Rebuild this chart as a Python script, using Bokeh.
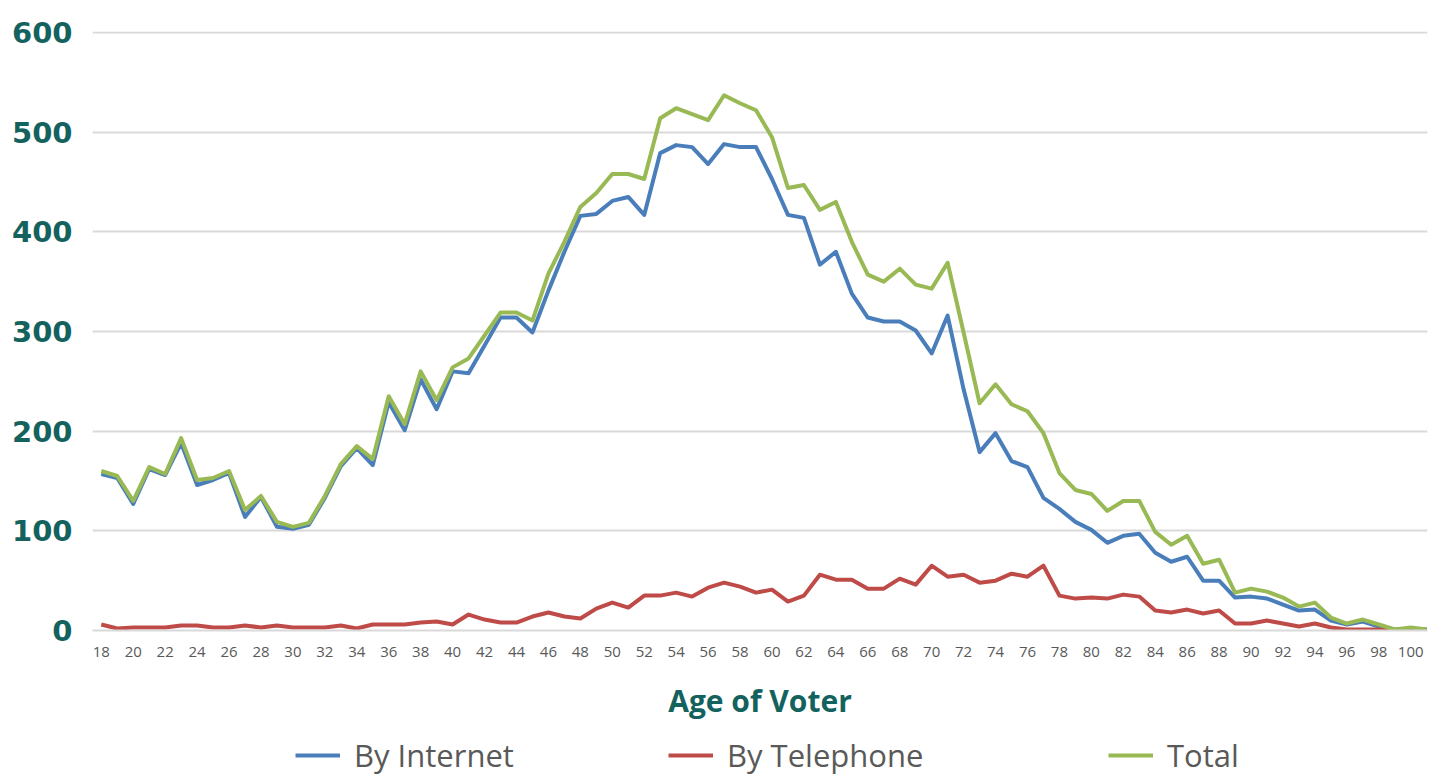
from bokeh.plotting import figure
from bokeh.models import Range1d, FixedTicker, Legend, LegendItem
from bokeh.layouts import column
from bokeh.embed import file_html
from bokeh.resources import INLINE

ages = list(range(18, 102))
by_internet = [157, 153, 127, 162, 156, 188, 146, 151, 158, 114, 134, 104, 102, 106, 133, 165, 183,
               166, 229, 201, 252, 222, 260, 258, 286, 314, 314, 299, 341, 380, 416, 418, 431, 435,
               417, 479, 487, 485, 468, 488, 485, 485, 453, 417, 414, 367, 380, 338, 314, 310, 310,
               301, 278, 316, 242, 179, 198, 170, 164, 133, 122, 109, 101, 88, 95, 97, 78, 69, 74,
               50, 50, 33, 34, 32, 26, 20, 21, 10, 6, 9, 4, 1, 2, 1]
by_telephone = [6, 2, 3, 3, 3, 5, 5, 3, 3, 5, 3, 5, 3, 3, 3, 5, 2, 6, 6, 6, 8, 9, 6, 16, 11, 8, 8, 14,
                18, 14, 12, 22, 28, 23, 35, 35, 38, 34, 43, 48, 44, 38, 41, 29, 35, 56, 51, 51, 42,
                42, 52, 46, 65, 54, 56, 48, 50, 57, 54, 65, 35, 32, 33, 32, 36, 34, 20, 18, 21, 17,
                20, 7, 7, 10, 7, 4, 7, 3, 1, 1, 1, 0, 0, 0]
total = [160, 155, 130, 164, 157, 193, 151, 153, 160, 121, 135, 109, 104, 108, 135, 167, 185, 172,
         235, 207, 260, 231, 264, 273, 296, 319, 319, 311, 358, 390, 425, 439, 458, 458, 453, 514,
         524, 518, 512, 537, 529, 522, 495, 444, 447, 422, 430, 390, 357, 350, 363, 347, 343, 369,
         299, 228, 247, 227, 220, 198, 158, 141, 137, 120, 130, 130, 99, 86, 95, 67, 71, 38, 42,
         39, 33, 24, 28, 13, 7, 11, 6, 1, 3, 1]
x_ticks = list(range(18, 101, 2))
y_ticks = [0, 100, 200, 300, 400, 500, 600]
series_names = ["By Internet", "By Telephone", "Total"]
colors = ["#4a7ebb", "#be4b48", "#98b954"]

teal = "#14625e"
p = figure(width=1431, height=730, output_backend="svg", toolbar_location=None,
           x_range=Range1d(17.45, 101.05), y_range=Range1d(0, 601),
           min_border_left=92, min_border_right=4, min_border_top=31, min_border_bottom=100)
p.outline_line_color = None

series = [by_internet, by_telephone, total]
for vals, c in zip(series, colors):
    p.line(ages, vals, line_color=c, line_width=4, line_join="round")

p.xgrid.grid_line_color = None
p.ygrid.grid_line_color = "#d9d9d9"
p.ygrid.grid_line_width = 2
p.ygrid.ticker = FixedTicker(ticks=y_ticks)

p.yaxis.ticker = FixedTicker(ticks=y_ticks)
p.yaxis.axis_line_color = None
p.yaxis.major_tick_line_color = None
p.yaxis.minor_tick_line_color = None
p.yaxis.major_label_text_font = "DejaVu Sans"
p.yaxis.major_label_text_font_style = "bold"
p.yaxis.major_label_text_font_size = "29px"
p.yaxis.major_label_text_color = teal
p.yaxis.major_label_standoff = 14

p.xaxis.ticker = FixedTicker(ticks=x_ticks)
p.xaxis.axis_line_color = "#d9d9d9"
p.xaxis.axis_line_width = 2
p.xaxis.major_tick_line_color = None
p.xaxis.minor_tick_line_color = None
p.xaxis.major_label_text_font = "Open Sans"
p.xaxis.major_label_text_font_size = "15px"
p.xaxis.major_label_text_color = "#595959"
p.xaxis.major_label_standoff = 10
p.xaxis.axis_label = "Age of Voter"
p.xaxis.axis_label_text_font = "Open Sans"
p.xaxis.axis_label_text_font_style = "bold"
p.xaxis.axis_label_text_font_size = "30px"
p.xaxis.axis_label_text_color = teal
p.xaxis.axis_label_standoff = 20

# legend strip below the chart (its series lie outside its view; only the legend shows)
lf = figure(width=1431, height=46, output_backend="svg", toolbar_location=None,
            x_axis_type=None, y_axis_type=None, x_range=Range1d(0, 1), y_range=Range1d(0, 1),
            min_border_left=0, min_border_right=0, min_border_top=0, min_border_bottom=0)
lf.outline_line_color = None
lf.xgrid.grid_line_color = None
lf.ygrid.grid_line_color = None

legend_x = [203, 576, 1016]
for n, vals, c, lx in zip(series_names, series, colors, legend_x):
    r = lf.line(ages, vals, line_color=c, line_width=4)
    lg = Legend(items=[LegendItem(label=n, renderers=[r])], location=(lx, 0),
                orientation="horizontal")
    lg.label_text_font = "Open Sans"
    lg.label_text_font_size = "31px"
    lg.label_text_color = "#595959"
    lg.glyph_width = 45
    lg.glyph_height = 30
    lg.label_standoff = 14
    lg.padding = 0
    lg.margin = 0
    lg.border_line_color = None
    lg.background_fill_alpha = 0
    lf.add_layout(lg, "center")

layout = column(p, lf, spacing=0)
open("out.html", "w").write(file_html(layout, INLINE))
